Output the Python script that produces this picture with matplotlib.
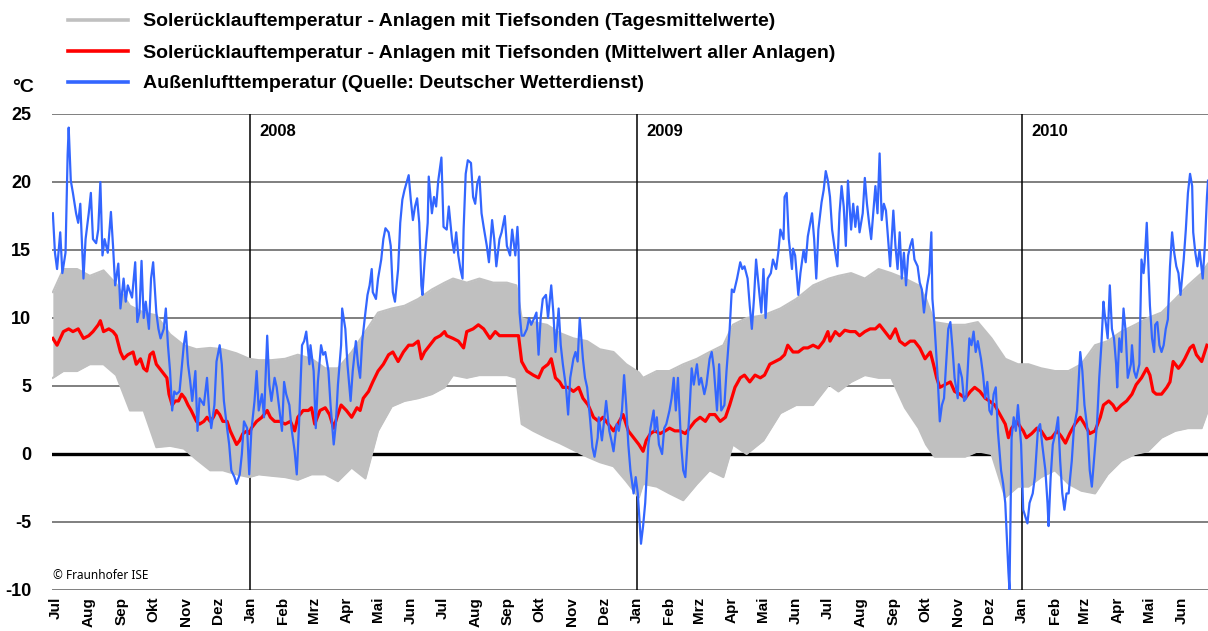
import matplotlib
matplotlib.use("Agg")
import matplotlib.pyplot as plt
from matplotlib.lines import Line2D
import pandas as pd

plt.rcParams['font.family'] = ['Liberation Sans', 'DejaVu Sans']

START = pd.Timestamp("2007-07-01")

# Außenlufttemperatur (days since 2007-07-01, °C)
blue_days = [-3, -1, 1, 4, 6, 9, 11, 12, 14, 16, 19, 21, 23, 26, 28, 31, 33, 35, 38, 40, 42, 44, 46, 49, 52, 54, 56, 59, 61, 64, 66, 68, 72, 75, 77, 79, 81, 83, 85, 88, 90, 92, 95, 97, 99, 102, 104, 106, 108, 110, 112, 114, 117, 121, 123, 125, 127, 129, 132, 134, 136, 140, 143, 145, 147, 150, 152, 155, 157, 159, 162, 164, 166, 169, 171, 174, 176, 178, 181, 183,
             185, 188, 190, 192, 195, 197, 200, 202, 204, 207, 209, 211, 214, 216, 218, 221, 223, 226, 228, 230, 233, 235, 237, 240, 241, 244, 246, 248, 251, 253, 255, 258, 260, 263, 265, 267, 270, 271, 274, 276, 279, 281, 284, 286, 288, 290, 293, 295, 297, 299, 300, 303, 305, 308, 310, 312, 315, 317, 319, 321, 324, 326, 328, 330, 334, 336, 338, 340, 342, 344, 346, 347, 349, 352, 353, 356, 358, 360, 362, 365, 367,
             370, 372, 375, 377, 379, 381, 383, 385, 386, 388, 390, 393, 395, 397, 399, 401, 403, 405, 408, 410, 413, 415, 417, 420, 422, 425, 427, 430, 432, 435, 437, 438, 439, 441, 443, 446, 448, 450, 453, 455, 457, 459, 461, 464, 466, 469, 471, 473, 476, 478, 480, 483, 485, 487, 490, 492, 494, 496, 499, 501, 503, 506, 508, 510, 513, 514, 517, 519, 521, 524, 526, 528, 531, 533, 536, 538, 540, 542, 544, 547, 549, 551, 552,
             554, 556, 558, 561, 563, 566, 567, 569, 571, 574, 576, 578, 581, 583, 585, 587, 589, 592, 594, 596, 598, 600, 602, 604, 607, 609, 611, 614, 616, 619, 621, 623, 626, 628, 630, 633, 635, 638, 640, 642, 645, 648, 650, 652, 655, 657, 659, 661, 663, 666, 668, 670, 672, 674, 677, 679, 682, 684, 686, 689, 690, 692, 694, 697, 698, 700, 703, 705, 708, 710, 712, 716, 718, 720, 722, 725, 727, 729, 731,
             733, 735, 738, 740, 742, 744, 746, 748, 750, 753, 755, 757, 759, 761, 764, 766, 768, 770, 772, 775, 776, 778, 780, 782, 784, 786, 788, 790, 793, 795, 797, 799, 801, 803, 805, 807, 809, 811, 813, 816, 818, 820, 822, 825, 827, 829, 830, 832, 835, 837, 839, 841, 843, 845, 847, 849, 851, 854, 855, 858, 860, 862, 865, 867, 869, 871, 873, 876, 878, 880, 882, 884, 886, 888, 890, 892, 895, 897, 899, 900, 902, 903, 904, 905, 907, 909, 911, 914, 916,
             918, 920, 922, 925, 927, 930, 932, 934, 937, 939, 940, 942, 944, 947, 949, 951, 953, 955, 957, 959, 962, 964, 967, 970, 972, 974, 977, 979, 981, 983, 986, 988, 990, 992, 993, 996, 998, 1000, 1002, 1004, 1005, 1007, 1009, 1011, 1013, 1015, 1018, 1019, 1021, 1023, 1026, 1028, 1030, 1031, 1033, 1034, 1036, 1038, 1040, 1041, 1043, 1045, 1047, 1049, 1051, 1053, 1055, 1057, 1059, 1061, 1063, 1065, 1068, 1070, 1072, 1074, 1076, 1077, 1079, 1081, 1083, 1086, 1088, 1090, 1091]
blue_temp = [17.7, 14.8, 13.6, 16.3, 13.3, 14.8, 22.0, 24.0, 20.1, 19.2, 17.7, 17.0, 18.4, 12.9, 15.8, 17.7, 19.2, 15.8, 15.5, 16.5, 20.0, 14.6, 15.8, 14.8, 17.8, 15.3, 12.4, 14.0, 10.7, 12.9, 11.2, 12.4, 11.5, 14.1, 9.7, 10.4, 14.2, 10.0, 11.2, 9.2, 12.9, 14.1, 10.4, 9.2, 8.5, 9.2, 10.7, 8.0, 6.1, 3.2, 4.6, 4.4, 4.6, 8.0, 9.0, 6.6, 5.4, 3.9, 6.1, 1.7, 4.1, 3.6, 5.6, 3.2, 1.9, 3.6, 6.8, 8.0, 6.6, 3.9, 1.9, 0.7, -1.2, -1.7, -2.2, -1.5, 0.0, 2.4, 1.9, -1.5,
             1.7, 3.9, 6.1, 3.2, 4.4, 2.7, 8.7, 5.1, 3.9, 5.6, 4.9, 3.6, 1.7, 5.3, 4.4, 3.6, 1.9, 0.2, -1.5, 1.9, 8.0, 8.3, 9.0, 6.6, 8.0, 6.1, 1.9, 5.3, 8.0, 7.3, 7.5, 6.1, 3.6, 0.7, 2.2, 5.1, 8.0, 10.7, 9.2, 6.6, 3.9, 6.1, 8.3, 6.6, 5.6, 8.3, 10.4, 11.7, 12.4, 13.6, 11.9, 11.4, 12.9, 14.3, 15.8, 16.6, 16.3, 15.3, 11.9, 11.2, 13.6, 17.0, 18.7, 19.4, 20.5, 18.7, 17.2, 18.2, 18.8, 17.0, 12.4, 11.7, 14.1, 17.0, 20.4, 17.7, 18.9, 18.2, 20.1, 21.8, 16.7,
             16.5, 18.2, 15.8, 14.8, 16.3, 14.6, 13.6, 12.9, 16.5, 20.6, 21.6, 21.4, 18.9, 18.4, 19.9, 20.4, 17.7, 16.7, 15.3, 14.1, 17.2, 15.8, 13.8, 15.8, 16.3, 17.5, 15.3, 14.6, 16.5, 14.6, 16.7, 15.3, 10.4, 8.7, 8.7, 9.2, 10.0, 9.5, 10.0, 10.4, 7.3, 10.0, 11.4, 11.7, 10.0, 12.4, 10.4, 7.5, 10.7, 8.0, 6.6, 4.9, 2.9, 5.6, 7.0, 7.5, 6.8, 10.0, 7.0, 5.6, 4.9, 2.4, 0.5, -0.2, 1.2, 2.7, 1.0, 2.4, 3.9, 1.7, 1.0, 0.2, 2.2, 1.7, 3.2, 5.8, 3.6, 0.7, -1.2, -2.9, -1.7, -2.9, -4.1,
             -6.6, -5.3, -3.6, 0.7, 1.9, 3.2, 1.7, 2.7, 0.7, 0.0, 1.9, 2.2, 3.2, 4.1, 5.6, 3.2, 5.6, 0.7, -1.2, -1.7, 0.7, 3.2, 6.3, 5.1, 6.6, 5.1, 5.6, 4.4, 5.1, 7.0, 7.5, 6.3, 3.2, 6.6, 3.2, 3.6, 6.1, 9.2, 12.1, 11.9, 12.9, 14.1, 13.6, 13.8, 12.9, 10.9, 9.2, 11.4, 14.3, 11.9, 10.4, 13.6, 10.0, 12.9, 13.3, 14.3, 13.6, 14.8, 16.5, 15.8, 18.9, 19.2, 15.8, 13.6, 15.1, 14.6, 11.7, 13.3, 15.0, 14.1, 16.0, 17.7, 15.8, 12.9, 16.5, 18.5, 19.4, 20.8, 20.1,
             18.9, 16.5, 14.8, 13.8, 17.7, 19.7, 18.2, 15.3, 20.1, 16.5, 18.4, 16.7, 18.2, 16.3, 17.7, 20.3, 18.4, 17.0, 15.8, 18.7, 19.7, 17.7, 22.1, 17.2, 18.4, 17.9, 15.8, 13.8, 17.9, 15.3, 13.6, 16.3, 12.9, 14.8, 12.4, 14.6, 15.3, 15.8, 14.3, 13.8, 12.6, 12.1, 10.4, 12.4, 13.3, 16.3, 11.4, 9.5, 5.6, 2.4, 3.6, 4.1, 6.6, 9.2, 9.7, 7.8, 5.6, 4.1, 6.6, 5.6, 3.9, 4.1, 8.5, 8.0, 9.0, 7.5, 8.3, 7.0, 5.8, 4.1, 5.3, 3.2, 2.9, 4.4, 4.9, 1.7, -1.2, -2.2, -3.6, -5.3, -8.7, -10.0, -4.1, 1.2, 2.7, 1.7, 3.6, 0.7, -4.1,
             -4.6, -5.1, -3.6, -2.9, -1.7, 1.9, 2.2, 0.7, -1.2, -3.6, -5.3, -1.7, 0.7, 1.7, 2.7, -0.5, -2.9, -4.1, -2.9, -2.9, -0.5, 1.9, 3.2, 7.5, 6.1, 3.6, 1.7, -1.2, -2.4, -0.5, 2.4, 5.6, 8.0, 11.2, 10.4, 8.5, 12.4, 9.2, 8.5, 6.6, 4.9, 8.5, 7.5, 10.7, 9.0, 5.6, 6.6, 8.0, 6.1, 5.6, 6.6, 14.3, 13.3, 14.1, 17.0, 15.0, 10.9, 8.5, 7.5, 9.5, 9.7, 8.0, 7.5, 8.0, 9.2, 9.9, 13.8, 16.3, 14.8, 13.8, 13.3, 11.7, 14.3, 16.5, 19.2, 20.6, 19.7, 16.3, 14.8, 13.8, 15.0, 12.9, 15.3, 18.9, 20.1]

# Solerücklauftemperatur, Mittelwert aller Anlagen
red_days = [-3, 1, 4, 7, 12, 16, 21, 26, 31, 35, 40, 42, 45, 50, 54, 57, 61, 64, 68, 73, 76, 80, 83, 86, 89, 92, 95, 100, 105, 107, 110, 113, 116, 119, 122, 125, 128, 133, 136, 140, 143, 146, 149, 152, 155, 158, 162, 165, 168, 171, 174, 177, 181, 183,
            185, 190, 195, 200, 203, 207, 212, 217, 222, 226, 229, 234, 239, 242, 245, 250, 255, 259, 263, 266, 270, 275, 280, 285, 288, 291, 296, 300, 305, 310, 315, 319, 324, 329, 334, 338, 343, 346, 349, 354, 359, 364, 368,
            370, 376, 381, 386, 389, 395, 400, 405, 411, 416, 420, 427, 433, 438, 441, 446, 452, 457, 461, 466, 469, 473, 477, 480, 485, 490, 495, 499, 504, 509, 514, 518, 523, 528, 532, 537, 542, 547, 552,
            556, 559, 563, 567, 572, 577, 581, 586, 591, 596, 600, 605, 610, 615, 619, 624, 629, 634, 638, 643, 648, 652, 657, 662, 667, 671, 676, 681, 686, 690, 693, 698, 703, 708, 712, 717, 722, 727, 731,
            733, 738, 742, 747, 752, 757, 761, 766, 771, 776, 780, 785, 790, 795, 799, 804, 809, 813, 818, 823, 828, 831, 834, 837, 842, 847, 851, 856, 861, 866, 870, 875, 880, 884, 889, 894, 899, 902, 905, 910, 914,
            916, 919, 924, 929, 933, 938, 943, 948, 952, 956, 960, 965, 970, 974, 979, 984, 989, 992, 997, 1001, 1004, 1009, 1014, 1019, 1023, 1028, 1033, 1036, 1039, 1042, 1047, 1052, 1055, 1058, 1063, 1066, 1069, 1074, 1077, 1080, 1085, 1090]
red_temp = [8.5, 8.0, 8.5, 9.0, 9.2, 9.0, 9.2, 8.5, 8.7, 9.0, 9.5, 9.8, 9.0, 9.2, 9.0, 8.7, 7.5, 7.0, 7.3, 7.5, 6.6, 7.0, 6.3, 6.1, 7.3, 7.5, 6.6, 6.1, 5.6, 4.4, 3.6, 3.9, 3.9, 4.4, 4.1, 3.6, 3.2, 2.4, 2.2, 2.4, 2.7, 2.4, 2.7, 3.2, 2.9, 2.4, 2.4, 1.7, 1.2, 0.7, 1.0, 1.5, 1.7, 1.5,
            1.9, 2.4, 2.7, 3.2, 2.7, 2.4, 2.4, 2.2, 2.4, 1.7, 2.7, 3.2, 3.2, 3.4, 2.2, 3.2, 3.4, 2.9, 1.9, 2.7, 3.6, 3.2, 2.7, 3.4, 3.2, 4.1, 4.6, 5.3, 6.1, 6.6, 7.3, 7.5, 6.8, 7.5, 8.0, 8.0, 8.3, 7.0, 7.5, 8.0, 8.5, 8.7, 9.0,
            8.7, 8.5, 8.3, 7.8, 9.0, 9.2, 9.5, 9.2, 8.5, 9.0, 8.7, 8.7, 8.7, 8.7, 6.8, 6.1, 5.8, 5.6, 6.3, 6.6, 7.0, 5.6, 5.3, 4.9, 4.9, 4.6, 4.9, 4.1, 3.6, 2.7, 2.4, 2.7, 2.2, 1.7, 2.2, 2.9, 1.7, 1.2, 0.7,
            0.2, 1.0, 1.5, 1.7, 1.5, 1.7, 1.9, 1.7, 1.7, 1.5, 1.9, 2.4, 2.7, 2.4, 2.9, 2.9, 2.4, 2.7, 3.6, 4.9, 5.6, 5.8, 5.3, 5.8, 5.6, 5.8, 6.6, 6.8, 7.0, 7.3, 8.0, 7.5, 7.5, 7.8, 7.8, 8.0, 7.8, 8.3, 9.0,
            8.3, 9.0, 8.7, 9.1, 9.0, 9.0, 8.7, 9.0, 9.2, 9.2, 9.5, 9.0, 8.5, 9.2, 8.3, 8.0, 8.3, 8.3, 7.8, 7.0, 7.5, 6.6, 5.6, 4.9, 5.1, 5.3, 4.6, 4.4, 4.1, 4.6, 4.9, 4.6, 4.1, 3.9, 3.6, 2.9, 2.2, 1.2, 1.9, 2.4, 1.9,
            1.7, 1.2, 1.5, 1.9, 1.7, 1.1, 1.2, 1.7, 1.3, 0.8, 1.5, 2.2, 2.7, 2.2, 1.5, 1.7, 2.7, 3.6, 3.9, 3.6, 3.2, 3.6, 3.9, 4.4, 5.1, 5.6, 6.3, 5.8, 4.6, 4.4, 4.4, 4.9, 5.3, 6.8, 6.3, 6.6, 7.0, 7.8, 8.0, 7.3, 6.8, 8.0]

# Solerücklauftemperatur, Tagesmittelwerte der Einzelanlagen (Hüllkurve: Minimum / Maximum)
gray_days = [-3, 7, 20, 32, 45, 57, 70, 83, 95, 108, 121, 133, 146, 158, 171, 183, 192, 204, 217, 229, 242, 255, 267, 280, 293, 305, 318, 330, 343, 356, 368, 376, 389, 401, 414, 427, 436, 441, 452, 465, 477, 490, 503, 515, 528, 540, 552, 556, 569, 581, 594, 607, 619, 632, 641, 654, 670, 686, 701, 717, 732, 741, 753, 766, 779, 791, 804, 817, 824, 832, 848, 861, 873, 886, 899, 911, 921, 933, 946, 959, 971, 984, 996, 1009, 1022, 1034, 1047, 1060, 1072, 1085, 1091]
gray_max = [11.9, 13.6, 13.6, 13.1, 13.5, 12.5, 10.9, 10.4, 10.2, 8.8, 8.0, 7.7, 7.8, 7.7, 7.4, 7.0, 6.9, 6.9, 7.0, 7.3, 7.0, 6.3, 6.3, 7.5, 9.0, 10.4, 10.7, 10.9, 11.4, 12.1, 12.6, 12.9, 12.6, 12.9, 12.6, 12.6, 12.4, 10.0, 9.7, 9.5, 8.9, 8.5, 8.3, 7.7, 7.5, 6.6, 6.0, 5.6, 6.1, 6.1, 6.6, 7.0, 7.5, 8.0, 9.5, 10.0, 10.2, 10.7, 11.4, 12.4, 12.9, 13.1, 13.3, 12.9, 13.6, 13.3, 12.9, 12.4, 11.4, 9.7, 9.5, 9.5, 9.7, 8.5, 7.0, 6.6, 6.6, 6.3, 6.1, 6.1, 6.6, 8.0, 8.3, 9.0, 9.5, 10.0, 10.4, 11.4, 12.4, 13.3, 14.0]
gray_min = [5.6, 6.1, 6.1, 6.6, 6.6, 5.8, 3.2, 3.2, 0.5, 0.6, 0.4, -0.4, -1.2, -1.2, -1.5, -1.7, -1.5, -1.6, -1.7, -1.9, -1.5, -1.5, -2.0, -1.0, -1.8, 1.7, 3.5, 3.9, 4.1, 4.4, 4.9, 5.8, 5.6, 5.8, 5.8, 5.8, 5.6, 2.2, 1.7, 1.2, 0.8, 0.3, -0.2, -0.6, -0.9, -2.0, -3.2, -2.2, -2.4, -2.9, -3.4, -2.2, -1.2, -1.7, 0.7, 0.0, 1.0, 3.0, 3.6, 3.6, 5.1, 4.6, 5.3, 5.8, 5.6, 5.6, 3.4, 1.9, 0.7, -0.2, -0.2, -0.2, 0.2, 0.0, -3.2, -2.4, -2.4, -1.7, -1.2, -2.2, -2.7, -2.9, -1.5, -0.5, 0.0, 0.2, 1.2, 1.7, 1.9, 1.9, 3.2]

month_names = ["Jan", "Feb", "Mrz", "Apr", "Mai", "Jun", "Jul", "Aug", "Sep", "Okt", "Nov", "Dez"]
year_marks = ["2008", "2009", "2010"]
y_ticks = [-10, -5, 0, 5, 10, 15, 20, 25]

legend_labels = [
    "Solerücklauftemperatur - Anlagen mit Tiefsonden (Tagesmittelwerte)",
    "Solerücklauftemperatur - Anlagen mit Tiefsonden (Mittelwert aller Anlagen)",
    "Außenlufttemperatur (Quelle: Deutscher Wetterdienst)",
]

C_GRAY = "#c0c0c0"
C_RED = "#ff0000"
C_BLUE = "#3366ff"


def to_dates(days):
    return START + pd.to_timedelta(days, unit="D")


W, H = 1208, 631
fig = plt.figure(figsize=(W / 100, H / 100), dpi=100)
ax = fig.add_axes([52 / W, 41 / H, 1156 / W, 476 / H])

x0 = to_dates([-3.8])[0]
x1 = to_dates([1091])[0]
ax.set_xlim(x0, x1)
ax.set_ylim(-10, 25)
for s in ax.spines.values():
    s.set_visible(False)

for v in y_ticks:
    if v == 0:
        continue
    ax.axhline(v, color="#7f7f7f", lw=1.4, zorder=1)
ax.axhline(0, color="black", lw=2.4, zorder=1.5)

for yr in year_marks:
    d = pd.Timestamp(f"{yr}-01-01")
    ax.axvline(d, color="black", lw=1.1, zorder=1.6)
    ax.text(d + pd.Timedelta(days=9), 23.7, yr, fontsize=12, fontweight="bold",
            ha="left", va="center", zorder=5)

ax.fill_between(to_dates(gray_days), gray_min, gray_max, color=C_GRAY, lw=0, zorder=2)
ax.plot(to_dates(gray_days), gray_max, color=C_GRAY, lw=1.5, zorder=2)
ax.plot(to_dates(gray_days), gray_min, color=C_GRAY, lw=1.5, zorder=2)
ax.plot(to_dates(red_days), red_temp, color=C_RED, lw=2.3, zorder=3)
ax.plot(to_dates(blue_days), blue_temp, color=C_BLUE, lw=1.6, zorder=4)

# month ticks
month_starts = pd.date_range("2007-07-01", "2010-06-01", freq="MS")
ax.set_xticks(month_starts)
ax.set_xticklabels([month_names[d.month - 1] for d in month_starts], rotation=90,
                   fontsize=11, fontweight="bold", va="top", ha="center")
ax.tick_params(axis="x", length=0, pad=5)
ax.set_yticks(y_ticks)
ax.set_yticklabels([str(v) for v in y_ticks], fontsize=13, fontweight="bold")
ax.tick_params(axis="y", length=0, pad=15)

fig.text(12 / W, 1 - 88 / H, "°C", fontsize=14, fontweight="bold", ha="left", va="center")
ax.text(x0 + pd.Timedelta(days=0.5), -8.9, "© Fraunhofer ISE", fontsize=8.5,
        fontweight="bold", family=["Noto Sans", "DejaVu Sans"], ha="left", va="center", zorder=5)

# legend
leg_colors = [C_GRAY, C_RED, C_BLUE]
leg_y = [20, 51, 82]
for lab, col, yy in zip(legend_labels, leg_colors, leg_y):
    fy = 1 - yy / H
    fig.add_artist(Line2D([68 / W, 128 / W], [fy, fy], color=col, lw=2.6,
                          transform=fig.transFigure))
    fig.text(143 / W, 1 - (yy + 2) / H, lab, fontsize=14, fontweight="bold", ha="left", va="center")

fig.savefig("out.png", dpi=100)
